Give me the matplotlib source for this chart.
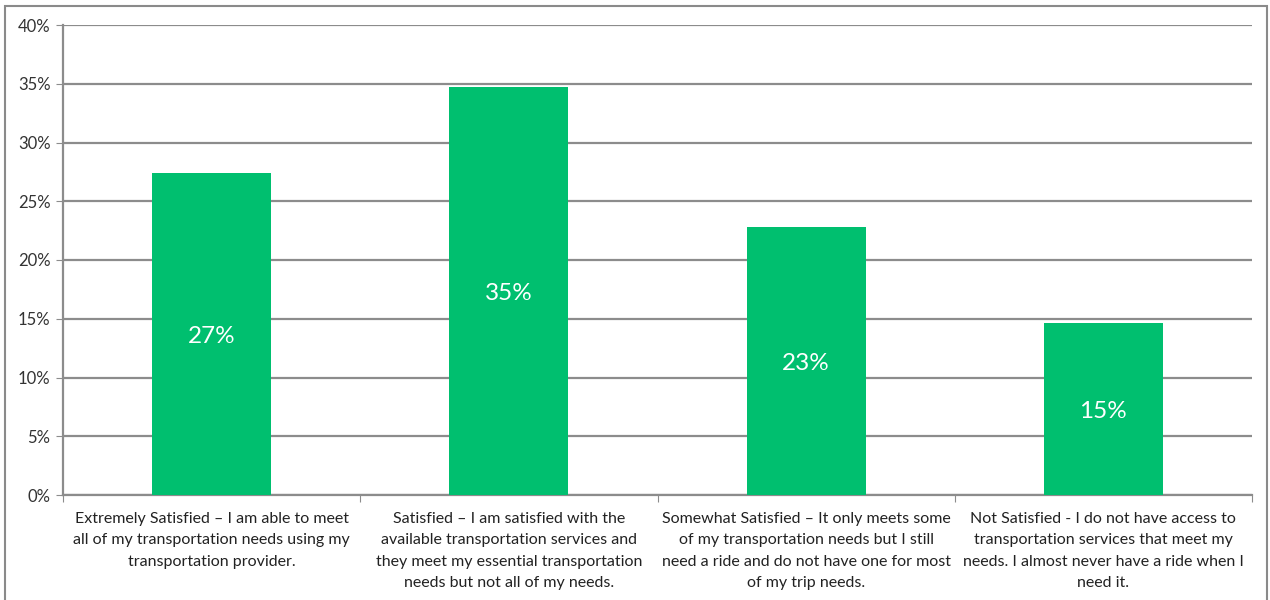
import matplotlib.pyplot as plt
from matplotlib.patches import Rectangle

# survey responses: share of respondents per satisfaction level
categories = [
    "Extremely Satisfied \u2013 I am able to meet\nall of my transportation needs using my\ntransportation provider.",
    "Satisfied \u2013 I am satisfied with the\navailable transportation services and\nthey meet my essential transportation\nneeds but not all of my needs.",
    "Somewhat Satisfied \u2013 It only meets some\nof my transportation needs but I still\nneed a ride and do not have one for most\nof my trip needs.",
    "Not Satisfied - I do not have access to\ntransportation services that meet my\nneeds. I almost never have a ride when I\nneed it.",
]
shares = [27.4, 34.7, 22.8, 14.6]
yticks = [0, 5, 10, 15, 20, 25, 30, 35, 40]

plt.rcParams['font.family'] = ['Lato', 'DejaVu Sans']

fig = plt.figure(figsize=(12.7, 6), dpi=100)
ax = fig.add_axes([63 / 1270, 105 / 600, 1189 / 1270, 470 / 600])

# outer chart frame
fig.patches.append(Rectangle((5 / 1270, -0.01), 1262 / 1270, 594 / 600 + 0.01, transform=fig.transFigure,
                             fill=False, edgecolor='#8a8a8a', linewidth=1.5))

x = range(len(categories))
ax.bar(x, shares, width=0.4, color='#00bf6f', zorder=3)
for i, v in zip(x, shares):
    ax.text(i, v / 2 - 0.2, f"{v:.0f}%", ha='center', va='center', color='white', fontsize=17.5, zorder=4)

ax.set_xlim(-0.5, len(categories) - 0.5)
ax.set_ylim(0, 40)
ax.set_yticks(yticks)
ax.set_yticklabels([f"{t}%" for t in yticks], fontsize=12, color='#333333')
ax.yaxis.grid(True, color='#8c8c8c', linewidth=1.6, zorder=0)

ax.set_xticks([i - 0.5 for i in range(len(categories) + 1)])
ax.set_xticklabels([])
ax.set_xticks(list(x), minor=True)
ax.set_xticklabels(categories, minor=True, fontsize=11.5, color='#222222', linespacing=1.68)
ax.tick_params(axis='x', which='minor', length=0, pad=12)
ax.tick_params(axis='x', which='major', length=5, color='#8c8c8c')
ax.tick_params(axis='y', length=5, color='#8c8c8c', pad=4)

for side in ['top', 'right']:
    ax.spines[side].set_visible(False)
for side in ['left', 'bottom']:
    ax.spines[side].set_color('#8c8c8c')
    ax.spines[side].set_linewidth(1.6)

fig.savefig('out.png', dpi=100)
